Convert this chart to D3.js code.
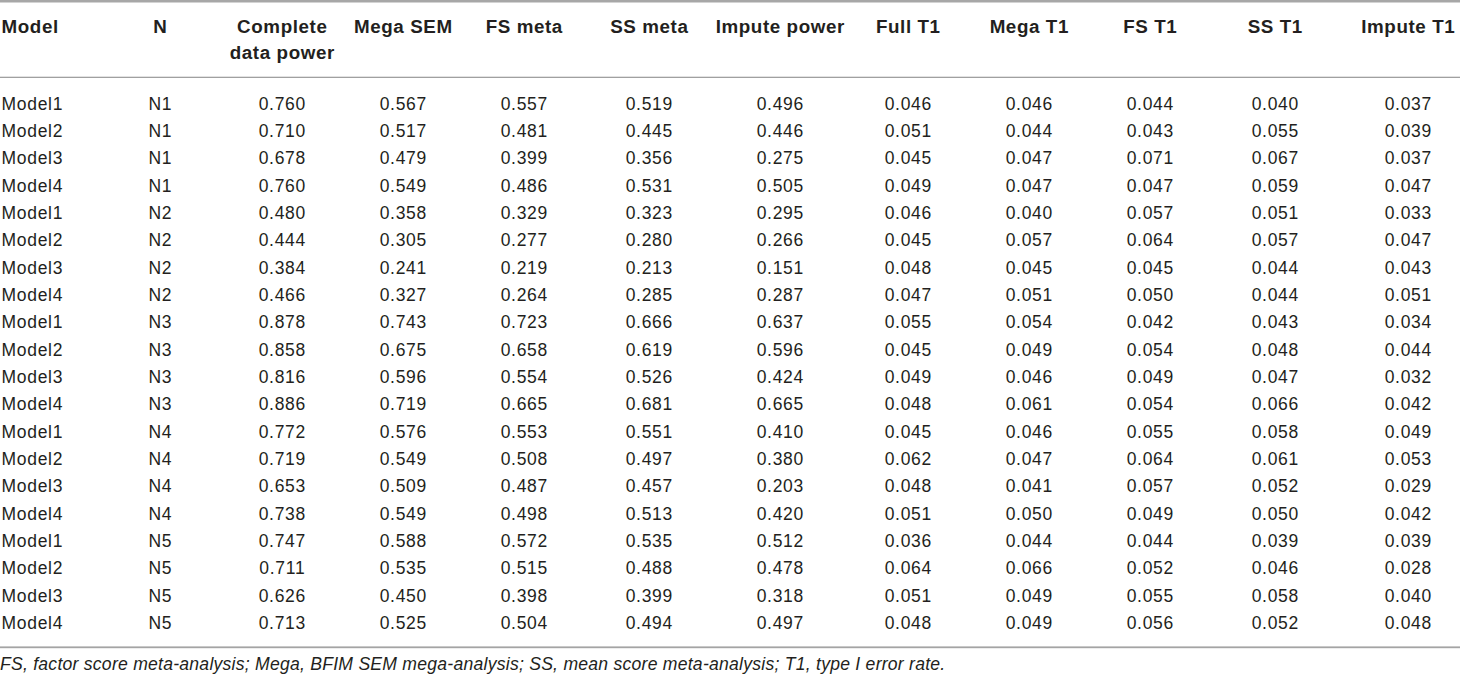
<!DOCTYPE html>
<html>
<head>
<meta charset="utf-8">
<script src="https://cdn.jsdelivr.net/npm/d3@7"></script>
<style>
  html, body { margin: 0; padding: 0; background: #fff; }
  svg { display: block; }
  text { font-family: "Liberation Sans", Arial, Helvetica, sans-serif; fill: #231f20; }
  .head { font-weight: bold; font-size: 18.8px; letter-spacing: 0.6px; }
  .cell { font-size: 17.5px; letter-spacing: 0.7px; }
  .note { font-style: italic; font-size: 17.6px; letter-spacing: 0.24px; }
</style>
</head>
<body>
<svg id="table"></svg>
<script>
// table data, one array per column
var headers = [
  ["Model"], ["N"], ["Complete", "data power"], ["Mega SEM"], ["FS meta"],
  ["SS meta"], ["Impute power"], ["Full T1"], ["Mega T1"], ["FS T1"], ["SS T1"], ["Impute T1"]
];
var models = ["Model1", "Model2", "Model3", "Model4", "Model1", "Model2", "Model3", "Model4",
  "Model1", "Model2", "Model3", "Model4", "Model1", "Model2", "Model3", "Model4",
  "Model1", "Model2", "Model3", "Model4"];
var nGroups = ["N1", "N1", "N1", "N1", "N2", "N2", "N2", "N2", "N3", "N3", "N3", "N3",
  "N4", "N4", "N4", "N4", "N5", "N5", "N5", "N5"];
var completePower = [0.760, 0.710, 0.678, 0.760, 0.480, 0.444, 0.384, 0.466, 0.878, 0.858,
  0.816, 0.886, 0.772, 0.719, 0.653, 0.738, 0.747, 0.711, 0.626, 0.713];
var megaSem = [0.567, 0.517, 0.479, 0.549, 0.358, 0.305, 0.241, 0.327, 0.743, 0.675,
  0.596, 0.719, 0.576, 0.549, 0.509, 0.549, 0.588, 0.535, 0.450, 0.525];
var fsMeta = [0.557, 0.481, 0.399, 0.486, 0.329, 0.277, 0.219, 0.264, 0.723, 0.658,
  0.554, 0.665, 0.553, 0.508, 0.487, 0.498, 0.572, 0.515, 0.398, 0.504];
var ssMeta = [0.519, 0.445, 0.356, 0.531, 0.323, 0.280, 0.213, 0.285, 0.666, 0.619,
  0.526, 0.681, 0.551, 0.497, 0.457, 0.513, 0.535, 0.488, 0.399, 0.494];
var imputePower = [0.496, 0.446, 0.275, 0.505, 0.295, 0.266, 0.151, 0.287, 0.637, 0.596,
  0.424, 0.665, 0.410, 0.380, 0.203, 0.420, 0.512, 0.478, 0.318, 0.497];
var fullT1 = [0.046, 0.051, 0.045, 0.049, 0.046, 0.045, 0.048, 0.047, 0.055, 0.045,
  0.049, 0.048, 0.045, 0.062, 0.048, 0.051, 0.036, 0.064, 0.051, 0.048];
var megaT1 = [0.046, 0.044, 0.047, 0.047, 0.040, 0.057, 0.045, 0.051, 0.054, 0.049,
  0.046, 0.061, 0.046, 0.047, 0.041, 0.050, 0.044, 0.066, 0.049, 0.049];
var fsT1 = [0.044, 0.043, 0.071, 0.047, 0.057, 0.064, 0.045, 0.050, 0.042, 0.054,
  0.049, 0.054, 0.055, 0.064, 0.057, 0.049, 0.044, 0.052, 0.055, 0.056];
var ssT1 = [0.040, 0.055, 0.067, 0.059, 0.051, 0.057, 0.044, 0.044, 0.043, 0.048,
  0.047, 0.066, 0.058, 0.061, 0.052, 0.050, 0.039, 0.046, 0.058, 0.052];
var imputeT1 = [0.037, 0.039, 0.037, 0.047, 0.033, 0.047, 0.043, 0.051, 0.034, 0.044,
  0.032, 0.042, 0.049, 0.053, 0.029, 0.042, 0.039, 0.028, 0.040, 0.048];
var footnote = "FS, factor score meta-analysis; Mega, BFIM SEM mega-analysis; SS, mean score meta-analysis; T1, type I error rate.";

var columns = [models, nGroups, completePower, megaSem, fsMeta, ssMeta, imputePower,
  fullT1, megaT1, fsT1, ssT1, imputeT1];

var width = 1460, height = 679;
var svg = d3.select("#table").attr("width", width).attr("height", height);

// column centres (first column is left aligned)
var x = d3.scaleOrdinal()
  .domain(d3.range(columns.length))
  .range([1.5, 160, 282, 403, 524, 649, 780, 908, 1029, 1150, 1275, 1408]);
var y = d3.scaleLinear().domain([0, models.length - 1]).range([109.5, 629.2]);
var fmt = d3.format(".3f");

// rules
svg.append("rect").attr("x", 0).attr("y", 0).attr("width", width).attr("height", 2.5).attr("fill", "#a7a7a7");
svg.append("rect").attr("x", 0).attr("y", 76.7).attr("width", width).attr("height", 1.3).attr("fill", "#a0a0a0");
svg.append("rect").attr("x", 0).attr("y", 646.4).attr("width", width).attr("height", 1.8).attr("fill", "#a4a4a4");

// header
headers.forEach(function (lines, i) {
  lines.forEach(function (line, j) {
    svg.append("text")
      .attr("class", "head")
      .attr("x", i == 0 ? x(i) : x(i) + 0.3)
      .attr("y", 32.7 + j * 26.5)
      .attr("text-anchor", i == 0 ? "start" : "middle")
      .text(line);
  });
});

// body
columns.forEach(function (col, i) {
  svg.append("g").selectAll("text")
    .data(col)
    .enter()
    .append("text")
    .attr("class", "cell")
    .attr("x", i == 0 ? x(i) : x(i) + 0.35)
    .attr("y", function (d, r) { return y(r); })
    .attr("text-anchor", i == 0 ? "start" : "middle")
    .text(function (d) { return typeof d === "number" ? fmt(d) : d; });
});

svg.append("text")
  .attr("class", "note")
  .attr("x", 0)
  .attr("y", 670)
  .text(footnote);
</script>
</body>
</html>
